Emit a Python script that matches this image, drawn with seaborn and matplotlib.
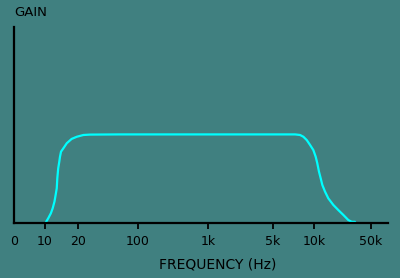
import numpy as np
import pandas as pd
import matplotlib
matplotlib.use("Agg")
import matplotlib.pyplot as plt
import seaborn as sns

# ---- data ----
freq_hz = [10.2, 10.7, 11.3, 11.75, 12.2, 12.5, 12.8, 12.95, 13.2, 13.5, 13.7,
           14.0, 14.7, 15.8, 17.5, 19.5, 23.1, 27.6, 60, 100, 1000, 5000,
           7260, 7900, 8360, 8850, 9360, 9890, 10490, 10970, 11510, 12080,
           12650, 13650, 14970, 17260, 19870, 22900, 26370, 29030, 31860]
gain = [0.004, 0.024, 0.049, 0.075, 0.109, 0.143, 0.177, 0.228, 0.279, 0.313, 0.338,
        0.364, 0.381, 0.407, 0.429, 0.440, 0.449, 0.451, 0.452, 0.452, 0.452, 0.452,
        0.452, 0.449, 0.440, 0.423, 0.398, 0.372, 0.338, 0.305, 0.262, 0.228,
        0.194, 0.160, 0.126, 0.092, 0.066, 0.041, 0.015, 0.006, 0.006]

tick_values = [0, 10, 20, 100, 1000, 5000, 10000, 50000]
tick_labels = ["0", "10", "20", "100", "1k", "5k", "10k", "50k"]

# hand-drawn (non uniform) log axis: decade knots -> relative position
knot_log = [0.7, 1.0, np.log10(20), 2.0, 3.0, np.log10(5000), 4.0, np.log10(50000), 5.0]
knot_pos = [14, 45, 78, 138, 208, 273, 314, 371, 395.5]

def fwd(x):
    x = np.asarray(x, dtype=float)
    lx = np.log10(np.maximum(x, 10 ** knot_log[0]))
    return np.interp(lx, knot_log, knot_pos)

def inv(p):
    p = np.asarray(p, dtype=float)
    return 10 ** np.interp(p, knot_pos, knot_log)

df = pd.DataFrame({"freq": freq_hz, "gain": gain})

sns.set_theme(style="white")
plt.rcParams["font.family"] = ["DejaVu Sans"]

bg = "#408080"
fig = plt.figure(figsize=(4.0, 2.78), dpi=100, facecolor=bg)
ax = fig.add_axes([14 / 400, (278 - 223) / 278, 374 / 400, 196 / 278])
ax.set_facecolor(bg)
ax.set_xscale("function", functions=(fwd, inv))

sns.lineplot(data=df, x="freq", y="gain", ax=ax, color="#00ffff",
             linewidth=1.6, sort=False)

ax.set_xlim(0, inv(388))
ax.set_ylim(0, 1)
ax.set_xticks(tick_values)
ax.set_xticklabels(tick_labels)
ax.xaxis.set_minor_locator(matplotlib.ticker.NullLocator())
ax.set_yticks([])
ax.tick_params(axis="x", direction="out", length=4.5, width=1.3, color="black",
               labelsize=9, labelcolor="black", pad=4, bottom=True)
ax.xaxis.get_major_ticks()[0].tick1line.set_visible(False)

for s in ["top", "right"]:
    ax.spines[s].set_visible(False)
for s in ["left", "bottom"]:
    ax.spines[s].set_color("black")
    ax.spines[s].set_linewidth(1.6)

ax.set_ylabel("")
ax.set_xlabel("FREQUENCY (Hz)", fontsize=10, color="black", va="center")
ax.xaxis.set_label_coords((218 - 14) / 374, (223 - 265) / 196)

fig.text(14 / 400, 1 - 12 / 278, "GAIN", fontsize=9.5, color="black",
         ha="left", va="center")

fig.savefig("out.png", dpi=100, facecolor=bg)
